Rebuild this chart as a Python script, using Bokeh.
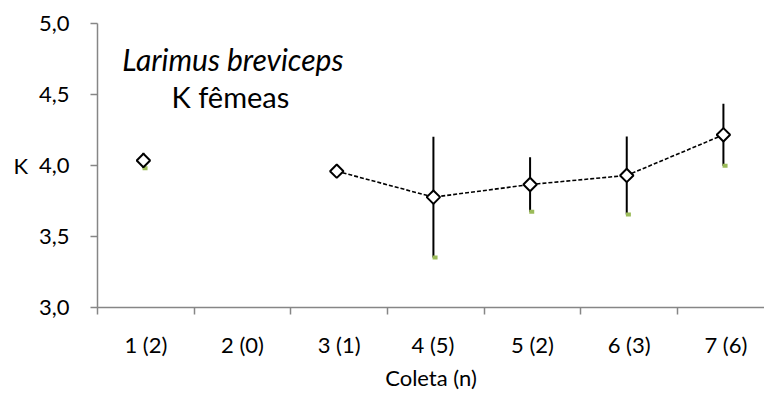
import numpy as np
from bokeh.plotting import figure
from bokeh.models import Range1d, FixedTicker, ColumnDataSource, Label
from bokeh.transform import dodge
from bokeh.embed import file_html
from bokeh.resources import INLINE

# ---- data ----
categories = ["1 (2)", "2 (0)", "3 (1)", "4  (5)", "5 (2)", "6 (3)", "7 (6)"]
k_mean = [4.035, np.nan, 3.960, 3.777, 3.866, 3.930, 4.216]
k_sd = [0.055, np.nan, np.nan, 0.425, 0.192, 0.275, 0.218]
y_ticks = [3.0, 3.5, 4.0, 4.5, 5.0]
y_tick_labels = ["3,0", "3,5", "4,0", "4,5", "5,0"]
title_species = "Larimus breviceps"
title_sub = "K fêmeas"

FONT = "Lato"
AXIS_GREY = "#868686"

xc = [i + 0.5 for i in range(len(categories))]
mean = np.array(k_mean, dtype=float)
sd = np.array(k_sd, dtype=float)

src = ColumnDataSource(dict(x=xc, mean=mean))

# line only over the connected run (after the missing category)
line_src = ColumnDataSource(dict(x=xc[2:], mean=mean[2:]))

eb_mask = ~np.isnan(sd)
eb_src = ColumnDataSource(dict(
    x=[xc[i] for i in range(len(xc)) if eb_mask[i]],
    upper=(mean + sd)[eb_mask],
    lower=(mean - sd)[eb_mask],
))

p = figure(width=764, height=394, output_backend="svg", toolbar_location=None,
           x_range=Range1d(0, 6.9), y_range=Range1d(3.0, 5.0),
           min_border_left=97, min_border_right=0, min_border_top=23, min_border_bottom=87)
p.outline_line_color = None
p.xgrid.visible = False
p.ygrid.visible = False
p.background_fill_color = "white"
p.border_fill_color = "white"

# dashed line
p.line(dodge("x", -0.025, range=p.x_range), "mean", source=line_src,
       line_color="black", line_width=1.6, line_dash="4 2")

# error bars
p.segment(x0=dodge("x", -0.025, range=p.x_range), y0="lower",
          x1=dodge("x", -0.025, range=p.x_range), y1="upper",
          source=eb_src, line_color="black", line_width=2)

# green lower markers
p.rect(x=dodge("x", -0.008, range=p.x_range), y="lower", width=5, height=4,
       width_units="screen", height_units="screen", source=eb_src,
       fill_color="#9BBB59", line_color=None)

# diamonds
p.scatter(dodge("x", -0.025, range=p.x_range), "mean", source=src, marker="square",
          angle=np.pi / 4, size=9.5, fill_color="white", line_color="black", line_width=2)

# axes
p.xaxis.ticker = FixedTicker(ticks=xc, minor_ticks=list(range(0, 8)))
p.xaxis.major_label_overrides = {x: c for x, c in zip(xc, categories)}
p.xaxis.major_tick_out = 0
p.xaxis.major_tick_in = 0
p.xaxis.minor_tick_out = 7
p.xaxis.minor_tick_in = 0
p.xaxis.minor_tick_line_color = AXIS_GREY
p.xaxis.minor_tick_line_width = 1.5
p.xaxis.axis_line_color = AXIS_GREY
p.xaxis.axis_line_width = 1.5
p.xaxis.major_label_text_font = FONT
p.xaxis.major_label_text_font_size = "22px"
p.xaxis.major_label_text_color = "black"
p.xaxis.major_label_standoff = 16
p.xaxis.axis_label = "Coleta (n)"
p.xaxis.axis_label_text_font = FONT
p.xaxis.axis_label_text_font_size = "22px"
p.xaxis.axis_label_text_font_style = "normal"
p.xaxis.axis_label_text_color = "black"
p.xaxis.axis_label_standoff = 3

p.yaxis.ticker = FixedTicker(ticks=y_ticks, minor_ticks=[])
p.yaxis.major_label_overrides = {t: l for t, l in zip(y_ticks, y_tick_labels)}
p.yaxis.major_tick_out = 7
p.yaxis.major_tick_in = 0
p.yaxis.major_tick_line_color = AXIS_GREY
p.yaxis.major_tick_line_width = 1.5
p.yaxis.axis_line_color = AXIS_GREY
p.yaxis.axis_line_width = 1.5
p.yaxis.major_label_text_font = FONT
p.yaxis.major_label_text_font_size = "22px"
p.yaxis.major_label_text_color = "black"
p.yaxis.major_label_standoff = 21
p.yaxis.axis_label = "K"
p.yaxis.axis_label_orientation = "horizontal"
p.yaxis.axis_label_text_font = FONT
p.yaxis.axis_label_text_font_size = "22px"
p.yaxis.axis_label_text_font_style = "normal"
p.yaxis.axis_label_text_color = "black"
p.yaxis.axis_label_standoff = 8

p.add_layout(Label(x=1.40, y=4.75, text=title_species, text_font=FONT,
                   text_font_size="30px", text_font_style="italic",
                   text_align="center", text_baseline="alphabetic", text_color="black"))
p.add_layout(Label(x=1.375, y=4.485, text=title_sub, text_font=FONT,
                   text_font_size="29px", text_align="center",
                   text_baseline="alphabetic", text_color="black"))

open("out.html", "w").write(file_html(p, INLINE))
